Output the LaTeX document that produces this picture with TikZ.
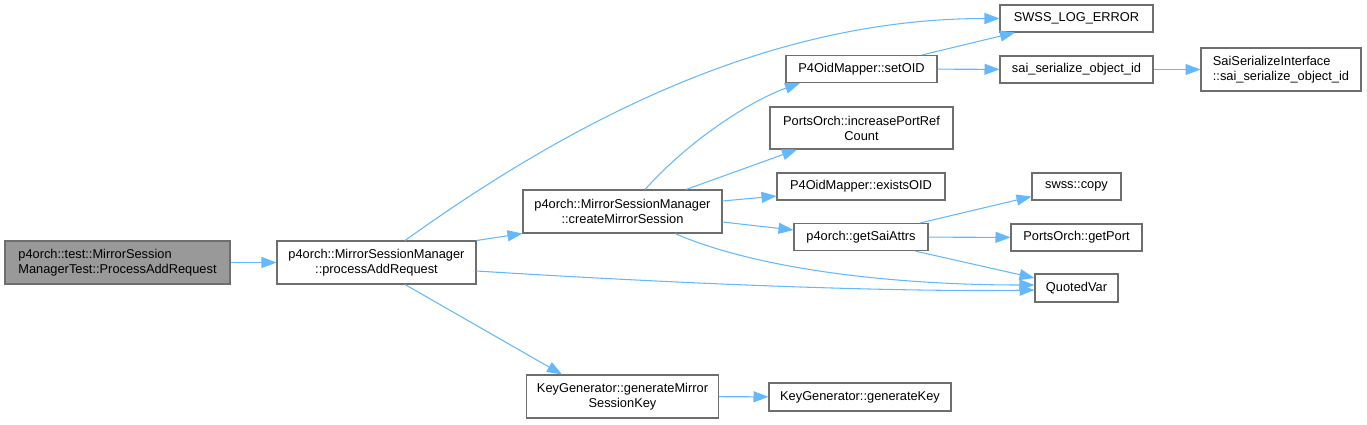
\documentclass[tikz,border=0pt]{standalone}
\usepackage{fontspec}
\setmainfont{Liberation Sans}
\usepackage{tikz}
\usetikzlibrary{arrows.meta}
\definecolor{edgeblue}{RGB}{99,184,255}
\definecolor{boxline}{RGB}{110,110,110}
\definecolor{rootfill}{RGB}{153,153,153}

\begin{document}
\begin{tikzpicture}[
  x=0.02cm,y=-0.02cm,
  fn/.style={draw=boxline,fill=white,line width=0.6pt,inner sep=1pt,
    font=\fontsize{7.3}{8.6}\selectfont,align=center},
  root/.style={fn,fill=rootfill,align=left},
  call/.style={-{Triangle[length=0.3cm,width=0.22cm]},edgeblue,line width=0.6pt},
]
  \useasboundingbox (0,0) rectangle (1367,424);

  \node[root,minimum width=4.5cm,minimum height=0.86cm] (test) at (117.5,262.5)
    {p4orch::test::MirrorSession\\ManagerTest::ProcessAddRequest};
  \node[fn,minimum width=3.98cm,minimum height=0.86cm] (pam) at (376.5,262.5)
    {p4orch::MirrorSessionManager\\::processAddRequest};
  \node[fn,minimum width=3.98cm,minimum height=0.86cm] (cms) at (622.5,211.5)
    {p4orch::MirrorSessionManager\\::createMirrorSession};
  \node[fn,minimum width=3.84cm,minimum height=0.86cm] (kgm) at (622.5,396.5)
    {KeyGenerator::generateMirror\\SessionKey};
  \node[fn,minimum width=3.64cm,minimum height=0.56cm] (kgk) at (860,397)
    {KeyGenerator::generateKey};
  \node[fn,minimum width=3.02cm,minimum height=0.54cm] (setoid) at (861.5,69)
    {P4OidMapper::setOID};
  \node[fn,minimum width=3.66cm,minimum height=0.84cm] (incref) at (861.5,128)
    {PortsOrch::increasePortRef\\Count};
  \node[fn,minimum width=3.36cm,minimum height=0.54cm] (exists) at (861,186.5)
    {P4OidMapper::existsOID};
  \node[fn,minimum width=2.68cm,minimum height=0.54cm] (getsai) at (861,237)
    {p4orch::getSaiAttrs};
  \node[fn,minimum width=3.06cm,minimum height=0.54cm] (logerr) at (1076.5,18.5)
    {SWSS\_LOG\_ERROR};
  \node[fn,minimum width=3.06cm,minimum height=0.54cm] (saiser) at (1076.5,69.5)
    {sai\_serialize\_object\_id};
  \node[root,fill=white,minimum width=3.2cm,minimum height=0.86cm] (saiif) at (1281,69.5)
    {SaiSerializeInterface\\::sai\_serialize\_object\_id};
  \node[fn,minimum width=1.78cm,minimum height=0.54cm] (copy) at (1076.5,186.5)
    {swss::copy};
  \node[fn,minimum width=2.62cm,minimum height=0.54cm] (getport) at (1076.5,237.5)
    {PortsOrch::getPort};
  \node[fn,minimum width=1.66cm,minimum height=0.56cm] (quoted) at (1076.5,288)
    {QuotedVar};

  \draw[call] (test) -- (pam);
  \draw[call] ([xshift=0.57cm]pam.north) .. controls +(155,-111) and +(-240,0) .. (logerr.west);
  \draw[call] (pam.north east) -- (cms.south west);
  \draw[call] ([yshift=-0.17cm]pam.east) .. controls +(224,14) and +(-135,2) .. ([yshift=-0.04cm]quoted.west);
  \draw[call] ([xshift=0.57cm]pam.south) -- ([xshift=-1.21cm]kgm.north);
  \draw[call] ([xshift=0.45cm]cms.north) .. controls +(45,-50) and +(-50,18) .. ([xshift=-1.23cm]setoid.south);
  \draw[call] ([xshift=1.27cm]cms.north) -- ([xshift=-1.29cm]incref.south);
  \draw[call] ([yshift=0.21cm]cms.east) -- ([yshift=-0.19cm]exists.west);
  \draw[call] ([yshift=-0.21cm]cms.east) -- ([yshift=0.14cm]getsai.west);
  \draw[call] ([xshift=1.05cm]cms.south) .. controls +(85,37) and +(-135,0) .. ([yshift=0.06cm]quoted.west);
  \draw[call] ([xshift=1.21cm]setoid.north) -- ([xshift=-1.23cm]logerr.south);
  \draw[call] (setoid) -- (saiser);
  \draw[call] (saiser) -- (saiif);
  \draw[call] ([xshift=1.18cm]getsai.north) -- ([yshift=-0.2cm]copy.west);
  \draw[call] (getsai) -- (getport);
  \draw[call] ([xshift=1.08cm]getsai.south) -- ([yshift=0.2cm]quoted.west);
  \draw[call] (kgm) -- (kgk);
\end{tikzpicture}
\end{document}
